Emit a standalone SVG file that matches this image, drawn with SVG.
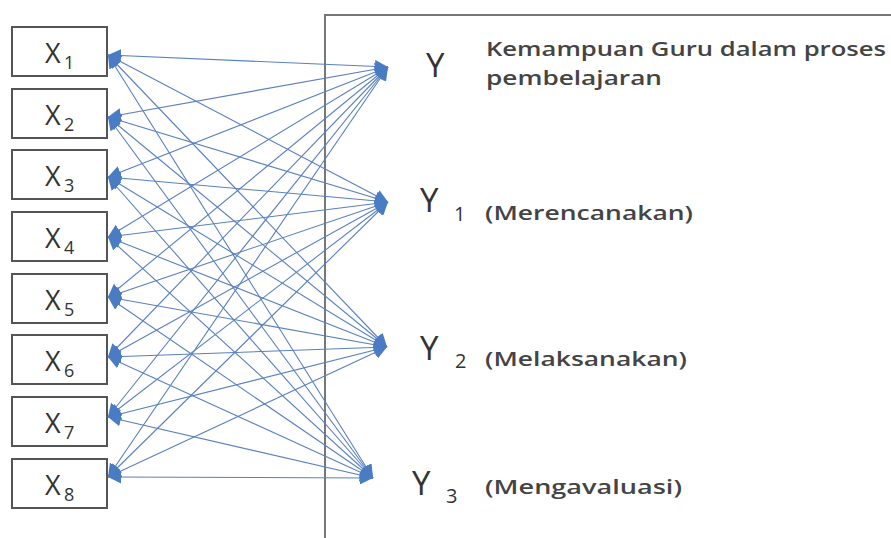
<svg xmlns="http://www.w3.org/2000/svg" width="891" height="538" viewBox="0 0 891 538">
<style>
.box{fill:#fff;stroke:#555;stroke-width:2}
.frame{fill:none;stroke:#777;stroke-width:2}
.t{font-family:"Open Sans","Liberation Sans",sans-serif;fill:#333}
.xl{font-size:27px}
.sub{font-size:18px}
.ysub{font-size:20px}
.yl{font-size:33px}
.lbl{font-size:19px;fill:#444;font-weight:600}
.c line{stroke:#5a80bf;stroke-width:1.1;marker-start:url(#ah);marker-end:url(#ah)}
</style>
<defs>
<marker id="ah" viewBox="0 0 10 10" refX="10" refY="5" markerWidth="13" markerHeight="13" markerUnits="userSpaceOnUse" orient="auto-start-reverse">
<path d="M0,0 L10,5 L0,10 z" fill="#4a7cc4"/>
</marker>
</defs>
<rect class="frame" x="325" y="15" width="600" height="560"/>
<g id="x1"><rect class="box" x="12" y="27" width="95" height="49"/><text class="t xl" x="45" y="63">X</text><text class="t sub" x="64" y="69">1</text></g>
<g id="x2"><rect class="box" x="12" y="89" width="95" height="49"/><text class="t xl" x="45" y="125">X</text><text class="t sub" x="64" y="131">2</text></g>
<g id="x3"><rect class="box" x="12" y="150" width="95" height="49"/><text class="t xl" x="45" y="186">X</text><text class="t sub" x="64" y="192">3</text></g>
<g id="x4"><rect class="box" x="12" y="212" width="95" height="49"/><text class="t xl" x="45" y="248">X</text><text class="t sub" x="64" y="254">4</text></g>
<g id="x5"><rect class="box" x="12" y="274" width="95" height="49"/><text class="t xl" x="45" y="310">X</text><text class="t sub" x="64" y="316">5</text></g>
<g id="x6"><rect class="box" x="12" y="335" width="95" height="49"/><text class="t xl" x="45" y="371">X</text><text class="t sub" x="64" y="377">6</text></g>
<g id="x7"><rect class="box" x="12" y="397" width="95" height="49"/><text class="t xl" x="45" y="433">X</text><text class="t sub" x="64" y="439">7</text></g>
<g id="x8"><rect class="box" x="12" y="459" width="95" height="49"/><text class="t xl" x="45" y="495">X</text><text class="t sub" x="64" y="501">8</text></g>
<g id="y"><text class="t yl" x="426" y="77">Y</text><text class="t lbl" x="486" y="56" textLength="400" lengthAdjust="spacingAndGlyphs">Kemampuan Guru dalam proses</text><text class="t lbl" x="486" y="85" textLength="176" lengthAdjust="spacingAndGlyphs">pembelajaran</text></g>
<g id="y1"><text class="t yl" x="420" y="212">Y</text><text class="t ysub" x="454" y="221">1</text><text class="t lbl" x="485" y="220" textLength="208" lengthAdjust="spacingAndGlyphs">(Merencanakan)</text></g>
<g id="y2"><text class="t yl" x="420" y="360">Y</text><text class="t ysub" x="455" y="368">2</text><text class="t lbl" x="485" y="366" textLength="202" lengthAdjust="spacingAndGlyphs">(Melaksanakan)</text></g>
<g id="y3"><text class="t yl" x="412" y="495">Y</text><text class="t ysub" x="446" y="503">3</text><text class="t lbl" x="485" y="494" textLength="197" lengthAdjust="spacingAndGlyphs">(Mengavaluasi)</text></g>
<g class="c" id="connectors">
<line x1="108" y1="55" x2="388" y2="67"/><line x1="108" y1="55" x2="388" y2="202"/><line x1="108" y1="55" x2="387" y2="347"/><line x1="108" y1="55" x2="373" y2="478"/>
<line x1="108" y1="117" x2="388" y2="67"/><line x1="108" y1="117" x2="388" y2="202"/><line x1="108" y1="117" x2="387" y2="347"/><line x1="108" y1="117" x2="373" y2="478"/>
<line x1="108" y1="177" x2="388" y2="67"/><line x1="108" y1="177" x2="388" y2="202"/><line x1="108" y1="177" x2="387" y2="347"/><line x1="108" y1="177" x2="373" y2="478"/>
<line x1="108" y1="237" x2="388" y2="67"/><line x1="108" y1="237" x2="388" y2="202"/><line x1="108" y1="237" x2="387" y2="347"/><line x1="108" y1="237" x2="373" y2="478"/>
<line x1="108" y1="297" x2="388" y2="67"/><line x1="108" y1="297" x2="388" y2="202"/><line x1="108" y1="297" x2="387" y2="347"/><line x1="108" y1="297" x2="373" y2="478"/>
<line x1="108" y1="357" x2="388" y2="67"/><line x1="108" y1="357" x2="388" y2="202"/><line x1="108" y1="357" x2="387" y2="347"/><line x1="108" y1="357" x2="373" y2="478"/>
<line x1="108" y1="417" x2="388" y2="67"/><line x1="108" y1="417" x2="388" y2="202"/><line x1="108" y1="417" x2="387" y2="347"/><line x1="108" y1="417" x2="373" y2="478"/>
<line x1="108" y1="477" x2="388" y2="67"/><line x1="108" y1="477" x2="388" y2="202"/><line x1="108" y1="477" x2="387" y2="347"/><line x1="108" y1="477" x2="373" y2="478"/>
</g>
</svg>
